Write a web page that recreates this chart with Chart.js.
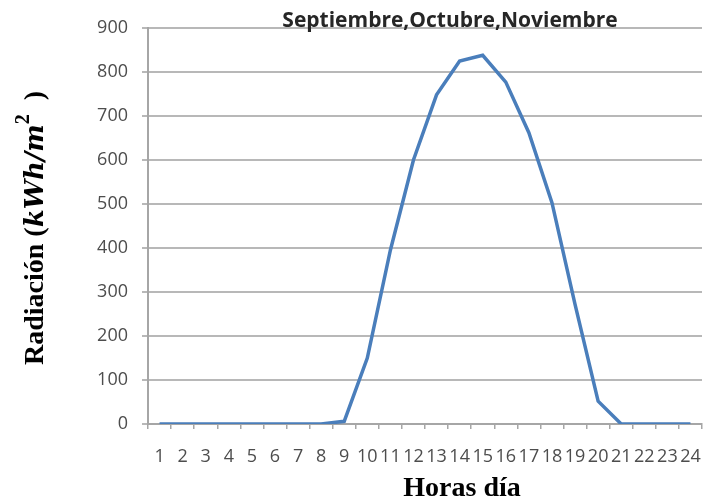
<!DOCTYPE html>
<html><head><meta charset="utf-8">
<script src="https://cdn.jsdelivr.net/npm/chart.js@4/dist/chart.umd.min.js"></script>
<style>html,body{margin:0;padding:0;background:#fff;}#wrap{width:707px;height:504px;}</style>
</head><body><div id="wrap"><canvas id="c" width="707" height="504"></canvas></div>
<script>
const hours = ['1','2','3','4','5','6','7','8','9','10','11','12','13','14','15','16','17','18','19','20','21','22','23','24'];
const radiation = [0,0,0,0,0,0,0,0,6,150,395,600,748,825,838,777,662,503,272,52,0,0,0,0];
const yTickValues = [0,100,200,300,400,500,600,700,800,900];
const chartTitle = 'Septiembre,Octubre,Noviembre';
const xTitle = 'Horas día';
const yTitleParts = [
  {text:'Radiación (', style:'bold', size:28, family:'"Liberation Serif"', dy:0},
  {text:'kWh/m', style:'italic bold', size:26, family:'"DejaVu Serif"', dy:0},
  {text:'2', style:'bold', size:20, family:'"Liberation Serif"', dy:-14},
  {text:'  )', style:'bold', size:28, family:'"Liberation Serif"', dy:0}
];

const textPlugin = {
  id:'textPlugin',
  afterDraw(chart){
    const ctx = chart.ctx;
    ctx.save();
    ctx.fillStyle = '#262626';
    ctx.font = 'bold 21px "Open Sans"';
    ctx.textAlign = 'center';
    ctx.textBaseline = 'alphabetic';
    ctx.fillText(chartTitle, 450, 27);
    ctx.fillStyle = '#000';
    ctx.font = 'bold 28px "Liberation Serif"';
    ctx.fillText(xTitle, 462, 496);
    ctx.translate(43, 365);
    ctx.rotate(-Math.PI/2);
    ctx.textAlign = 'left';
    let x = 0;
    yTitleParts.forEach(p => {
      ctx.font = p.style + ' ' + p.size + 'px ' + p.family;
      ctx.fillText(p.text, x, p.dy);
      x += ctx.measureText(p.text).width;
    });
    ctx.restore();
  }
};

new Chart(document.getElementById('c'), {
  type:'line',
  data:{
    labels: hours,
    datasets:[{
      label:'Radiación',
      data: radiation,
      borderColor:'#4a7ebb',
      backgroundColor:'#4a7ebb',
      borderWidth:3.5,
      pointRadius:0,
      tension:0,
      fill:false
    }]
  },
  options:{
    responsive:false,
    animation:false,
    devicePixelRatio:1,
    layout:{padding:{left:0, top:28, right:5, bottom:0}},
    plugins:{legend:{display:false}, title:{display:false}, tooltip:{enabled:false}},
    scales:{
      x:{
        type:'category',
        offset:true,
        grid:{offset:true, drawOnChartArea:false, drawTicks:true, tickLength:5, color:'#a6a6a6', lineWidth:1.5},
        border:{display:true, color:'#a6a6a6', width:2},
        ticks:{autoSkip:false, maxRotation:0, minRotation:0, color:'#4d4d4d', font:{family:'Open Sans', size:18}, padding:17},
        afterFit(s){ s.height = 80; s.paddingLeft = 0; s.paddingRight = 0; }
      },
      y:{
        min:0, max:900,
        afterBuildTicks(s){ s.ticks = yTickValues.map(v => ({value:v})); },
        grid:{color:'#b8b8b8', lineWidth:2, drawTicks:true, tickLength:6},
        border:{display:true, color:'#a6a6a6', width:2},
        ticks:{color:'#4d4d4d', font:{family:'Open Sans', size:18}, padding:14},
        afterFit(s){ s.width = 148; }
      }
    }
  },
  plugins:[textPlugin]
});
</script>
</body></html>
